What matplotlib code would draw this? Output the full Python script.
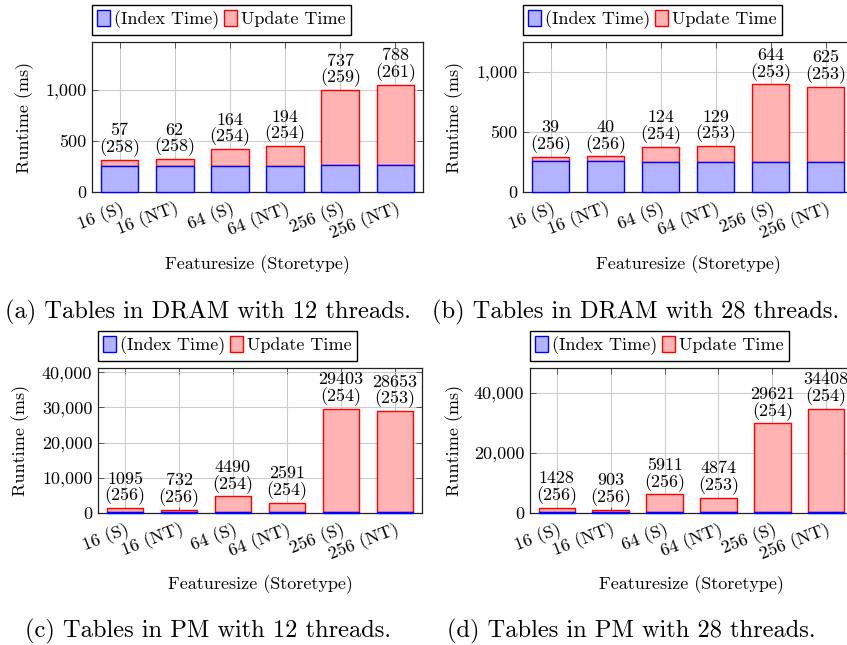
import matplotlib
matplotlib.use("Agg")
import matplotlib.pyplot as plt
import numpy as np
from matplotlib.ticker import FuncFormatter
from matplotlib.patches import Patch

plt.rcParams['font.family'] = 'serif'
plt.rcParams['font.serif'] = ['cmr10']
plt.rcParams['mathtext.fontset'] = 'cm'
plt.rcParams['axes.formatter.use_mathtext'] = True

# Data
categories = ["16 (S)", "16 (NT)", "64 (S)", "64 (NT)", "256 (S)", "256 (NT)"]

index_a = [258, 258, 254, 254, 259, 261]
update_a = [57, 62, 164, 194, 737, 788]
index_b = [256, 256, 254, 253, 253, 253]
update_b = [39, 40, 124, 129, 644, 625]
index_c = [256, 256, 254, 254, 254, 253]
update_c = [1095, 732, 4490, 2591, 29403, 28653]
index_d = [256, 256, 256, 253, 254, 254]
update_d = [1428, 903, 5911, 4874, 29621, 34408]

captions = ["(a) Tables in DRAM with 12 threads.",
            "(b) Tables in DRAM with 28 threads.",
            "(c) Tables in PM with 12 threads.",
            "(d) Tables in PM with 28 threads."]

W, H = 847, 645
fig = plt.figure(figsize=(W / 100, H / 100), dpi=100)

BLUE_FILL = (0.7, 0.7, 1.0)
RED_FILL = (1.0, 0.7, 0.7)
FS = 13
CAP_FS = 17.6


def px_axes(x0, y0, x1, y1):
    return fig.add_axes([x0 / W, 1 - y1 / H, (x1 - x0) / W, (y1 - y0) / H])


def panel(ax, index, update, ymax, yticks, xlab_y, ylab_x):
    x = np.arange(len(categories))
    b1 = ax.bar(x, index, width=0.68, color=BLUE_FILL, edgecolor='blue', linewidth=1.0, zorder=4)
    b2 = ax.bar(x, update, width=0.68, bottom=index, color=RED_FILL, edgecolor='red', linewidth=1.0, zorder=3)
    for p in list(b1) + list(b2):
        p.set_clip_on(False)
    for xi, i, u in zip(x, index, update):
        ax.annotate(f"{u}\n({i})", xy=(xi, i + u), xytext=(0, 2), textcoords='offset points',
                    ha='center', va='bottom', fontsize=FS, linespacing=1.0, annotation_clip=False,
                    clip_on=False)
    ax.set_xlim(-0.5, 5.5)
    ax.set_ylim(0, ymax)
    ax.set_xticks(x)
    ax.set_xticklabels(categories, rotation=21, ha='right', va='top', rotation_mode='anchor', fontsize=FS)
    ax.set_yticks(yticks)
    ax.yaxis.set_major_formatter(FuncFormatter(lambda v, p: f"{int(v):,}"))
    ax.tick_params(axis='both', direction='in', top=True, right=True, length=4, width=0.6,
                   labelsize=FS, colors='#444444', labelcolor='black')
    ax.tick_params(axis='x', pad=5)
    ax.tick_params(axis='y', pad=4)
    ax.grid(True, color='#cccccc', linewidth=0.8, zorder=0)
    ax.set_axisbelow(True)
    for s in ax.spines.values():
        s.set_linewidth(0.9)
        s.set_color('#222222')
    ax.set_ylabel("Runtime (ms)", fontsize=FS, va='center')
    ax.yaxis.set_label_coords(ylab_x, 0.5)
    ax.set_xlabel("Featuresize (Storetype)", fontsize=FS, va='center')
    ax.xaxis.set_label_coords(0.5, xlab_y)
    handles = [Patch(facecolor=BLUE_FILL, edgecolor='blue', label='(Index Time)'),
               Patch(facecolor=RED_FILL, edgecolor='red', label='Update Time')]
    ax.legend(handles=handles, loc='lower left', bbox_to_anchor=(0, 1.05), ncol=2, fontsize=FS,
              frameon=True, fancybox=False, edgecolor='black', framealpha=1, handlelength=0.7,
              handleheight=1.0, handletextpad=0.2, columnspacing=0.3, borderpad=0.3,
              borderaxespad=0)


ax_a = px_axes(92, 42, 423, 192)
panel(ax_a, index_a, update_a, 1465, [0, 500, 1000], -0.487, -0.205)
ax_b = px_axes(523, 42, 853, 192)
panel(ax_b, index_b, update_b, 1250, [0, 500, 1000], -0.487, -0.206)
ax_c = px_axes(98, 368, 422, 513)
panel(ax_c, index_c, update_c, 41200, [0, 10000, 20000, 30000, 40000], -0.497, -0.24)
ax_d = px_axes(530, 368, 853, 513)
panel(ax_d, index_d, update_d, 48300, [0, 20000, 40000], -0.497, -0.232)

fig.text(208 / W, 1 - 312 / H, captions[0], ha='center', va='center', fontsize=CAP_FS)
fig.text(636 / W, 1 - 312 / H, captions[1], ha='center', va='center', fontsize=CAP_FS)
fig.text(208 / W, 1 - 631 / H, captions[2], ha='center', va='center', fontsize=CAP_FS)
fig.text(631 / W, 1 - 631 / H, captions[3], ha='center', va='center', fontsize=CAP_FS)

fig.savefig("out.png", dpi=100)
